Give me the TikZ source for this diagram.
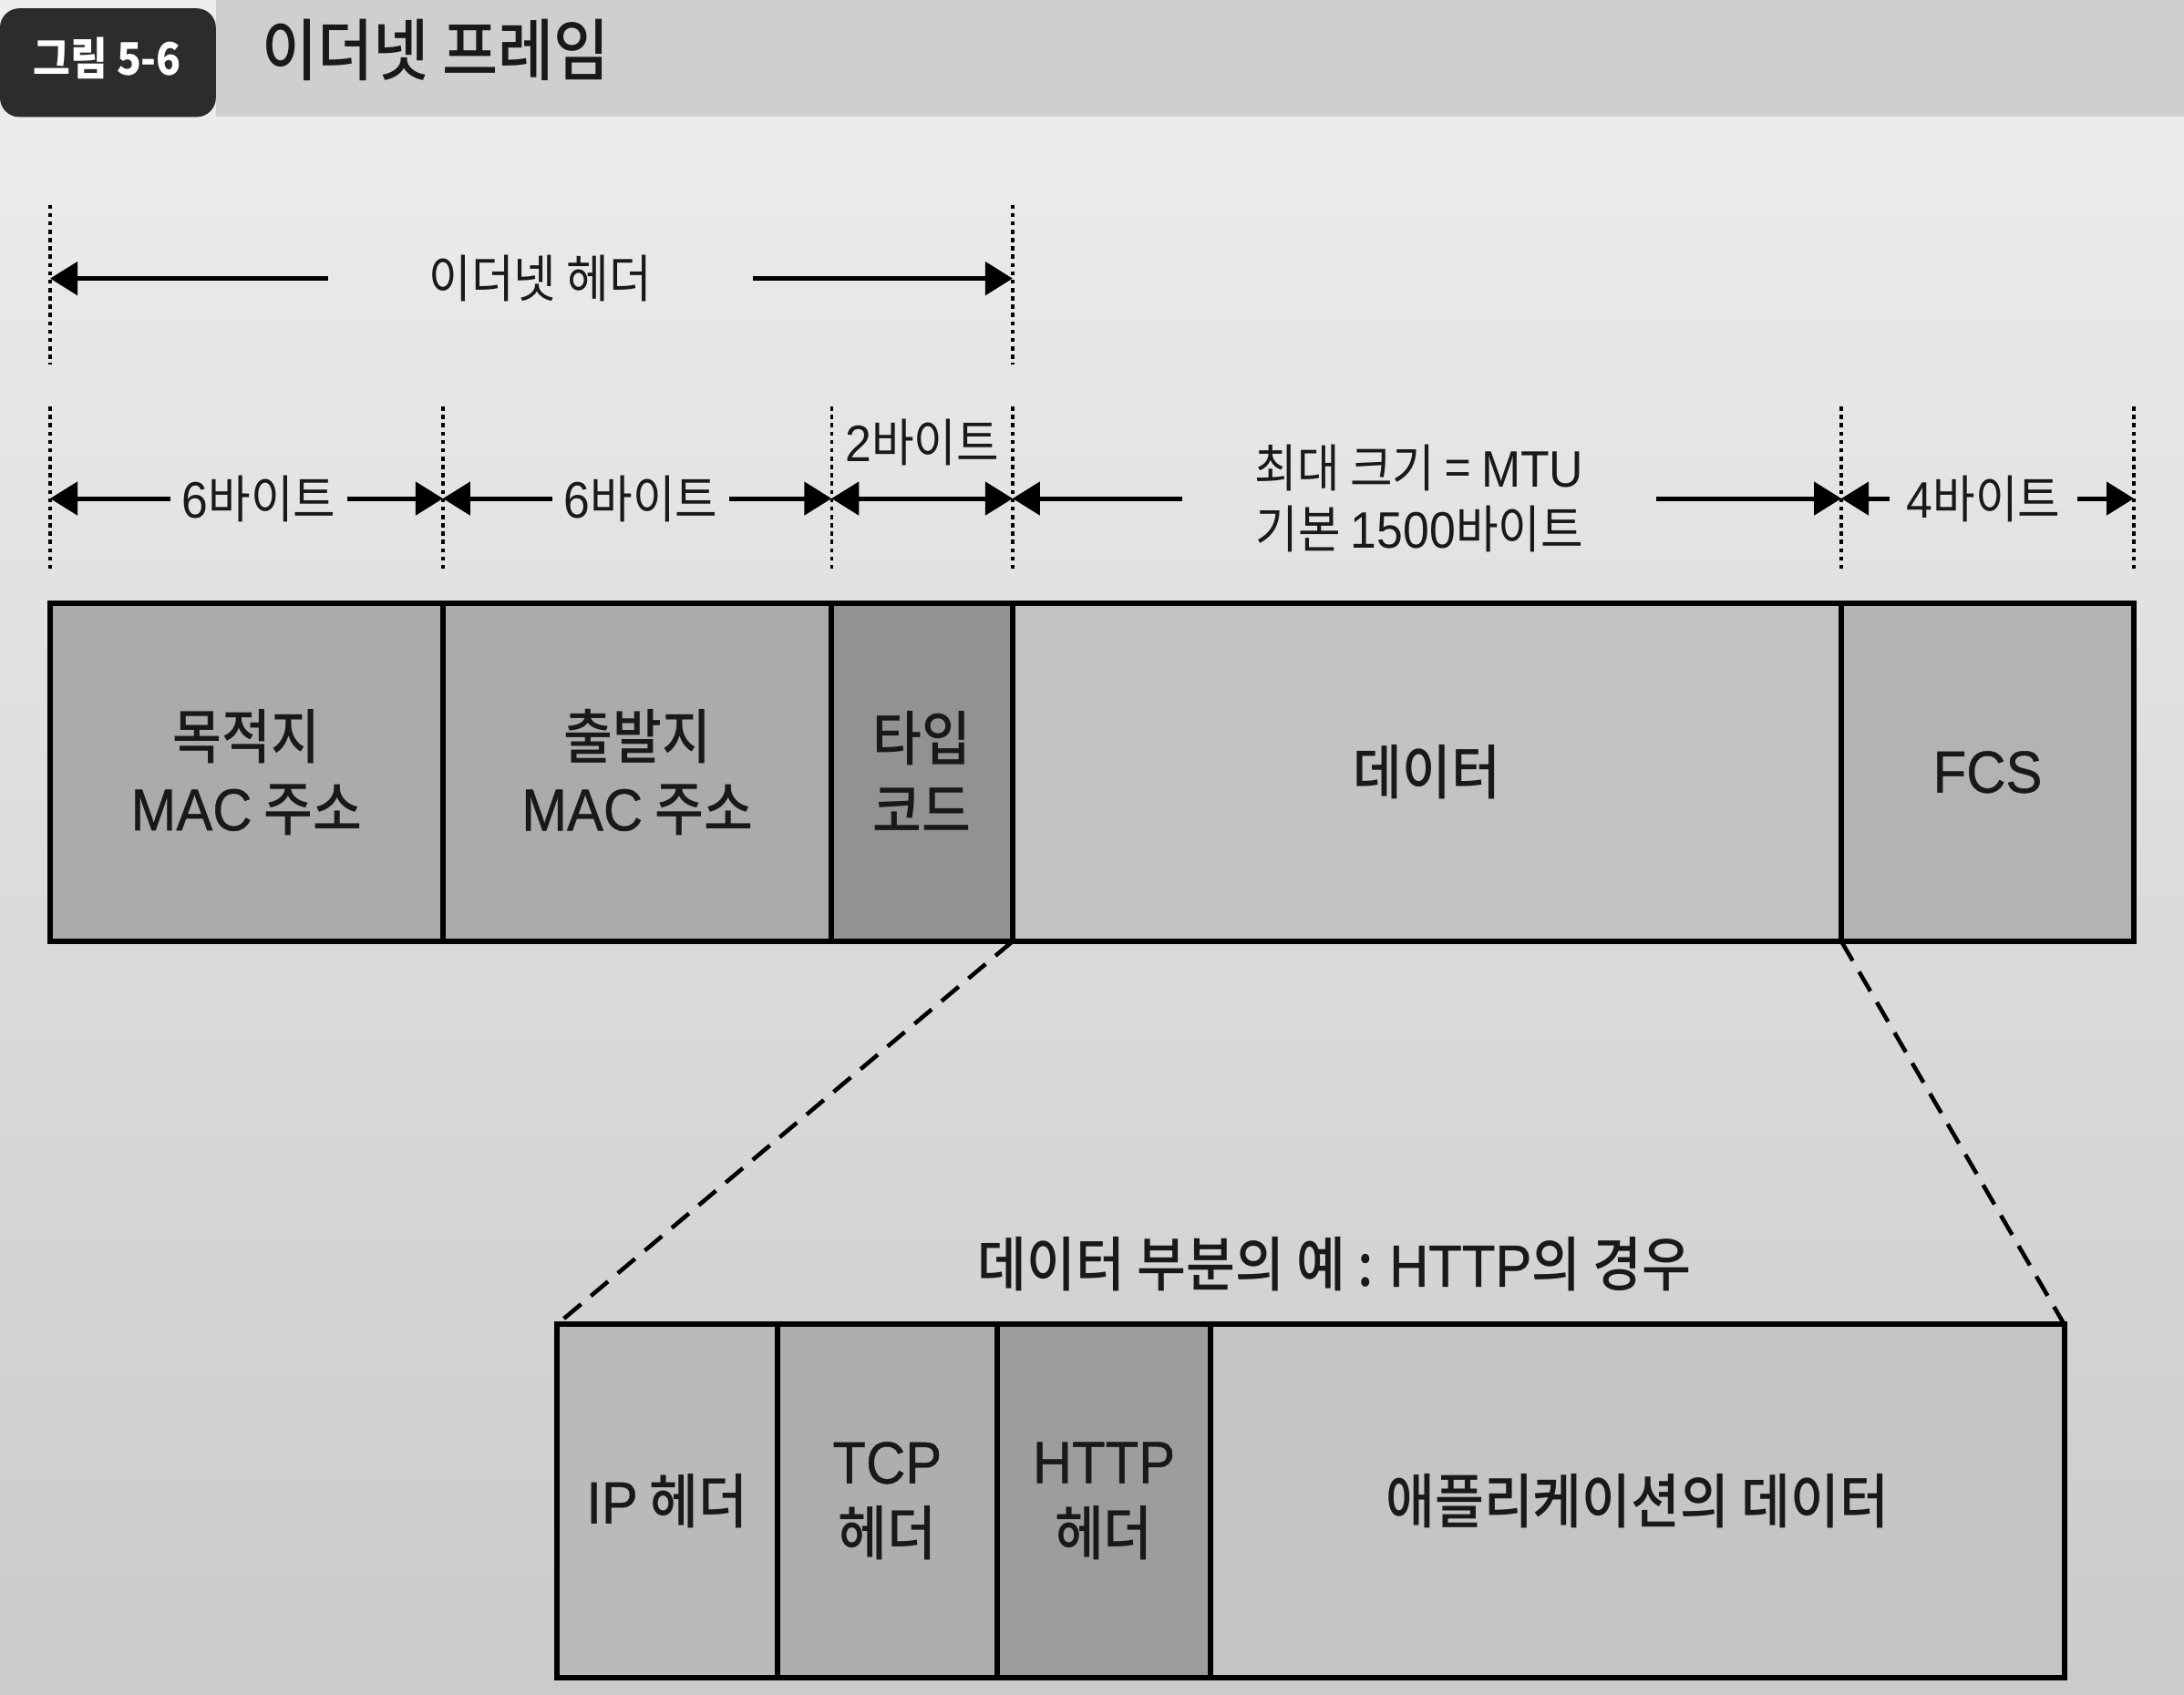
\documentclass[tikz,border=0pt]{standalone}
\usepackage{fontspec}
\setmainfont{Noto Sans CJK KR}[FakeStretch=0.9]
\newfontfamily\krmed{Noto Sans CJK KR Medium}[FakeStretch=0.9]
\newfontfamily\latf{Liberation Sans}[FakeStretch=0.92]
\newfontfamily\latm{Liberation Sans}[FakeStretch=0.92, FakeBold=0.7]
\usepackage{xcolor}
\usetikzlibrary{arrows.meta, positioning, calc}
\newdimen\upx
\upx=0.1528mm
\definecolor{bgTop}{HTML}{EEEEEE}
\definecolor{bgBot}{HTML}{CBCBCB}
\definecolor{band}{HTML}{CFCFCF}
\definecolor{tabfill}{HTML}{2C2C2C}
\definecolor{cMac}{HTML}{ABABAB}
\definecolor{cType}{HTML}{929292}
\definecolor{cData}{HTML}{C3C3C3}
\definecolor{cFcs}{HTML}{B3B3B3}
\definecolor{cIp}{HTML}{BABABA}
\definecolor{cTcp}{HTML}{AEAEAE}
\definecolor{cHttp}{HTML}{9D9D9D}
\definecolor{cApp}{HTML}{C5C5C5}
\tikzset{
    framediagram/.style={x=0.1528mm, y=-0.1528mm, text=black!90},
    fld/.style={draw, line width=1.7pt, minimum height=243\upx, outer sep=0pt,
        inner sep=0pt, align=center, font=\krmed\fontsize{18.5}{22.5}\selectfont},
    dim/.style={inner xsep=8\upx, inner ysep=0pt, align=center,
        font=\fontsize{16}{19}\selectfont},
    guide/.style={dash pattern=on 1.3pt off 1.3pt, line width=1pt},
    meas/.style={-{Triangle[length=3mm, width=3.6mm]}, line width=1.4pt},
    zoomline/.style={dash pattern=on 7pt off 4pt, line width=1.3pt},
    % heading above the zoomed-in data part
    head/.style={font=\krmed\fontsize{18.5}{22}\selectfont},
}
\begin{document}
\begin{tikzpicture}[framediagram]
    \useasboundingbox (0,0) rectangle (1568,1217);
    \shade[top color=bgTop, bottom color=bgBot] (0,0) rectangle (1568,1217);

    % title bar
    \fill[band] (155,0) rectangle (1568,84);
    \fill[tabfill, rounded corners=6pt] (0,6) rectangle (155,84);
    \node[text=white, font=\bfseries\fontsize{14}{16}\selectfont] (fig) at (77,42) {그림 5-6};
    \node[anchor=west, font=\krmed\fontsize{21}{25}\selectfont] (ttl) at (180,36) {이더넷 프레임};

    % ethernet header span
    \draw[guide] (36,147) -- (36,262);
    \draw[guide] (727,147) -- (727,262);
    \coordinate (eh0) at (36,200);
    \coordinate (eh1) at (727,200);
    \node[dim, inner xsep=72\upx] (ethhdr) at (388,200) {이더넷 헤더};
    \draw[meas] (ethhdr) -- (eh0);
    \draw[meas] (ethhdr) -- (eh1);

    % byte sizes
    \foreach \n/\x in {0/36, 1/318, 2/597, 3/727, 4/1322, 5/1532} {
        \draw[guide] (\x,292) -- (\x,410);
        \coordinate (b\n) at (\x,358);
    }
    \node[dim] (six1) at (186,358) {{\latf 6}바이트};
    \draw[meas] (six1) -- (b0);
    \draw[meas] (six1) -- (b1);
    \node[dim] (six2) at (460,358) {{\latf 6}바이트};
    \draw[meas] (six2) -- (b1);
    \draw[meas] (six2) -- (b2);
    \node[dim] (two) at (662,318) {{\latf 2}바이트};
    \draw[meas, {Triangle[length=3mm, width=3.6mm]}-{Triangle[length=3mm, width=3.6mm]}] (b2) -- (b3);
    \node[dim, inner xsep=52\upx] (mtu) at (1019,358) {최대 크기 = {\latf MTU}\\기본 {\latf 1500}바이트};
    \draw[meas] (mtu) -- (b3);
    \draw[meas] (mtu) -- (b4);
    \node[dim, inner xsep=12\upx] (four) at (1424,358) {{\latf 4}바이트};
    \draw[meas] (four) -- (b4);
    \draw[meas] (four) -- (b5);

    % ethernet frame
    \node[fld, fill=cMac, minimum width=282\upx, anchor=north west] (dst) at (36,433) {목적지\\{\latm MAC} 주소};
    \node[fld, fill=cMac, minimum width=279\upx, right=0pt of dst] (src) {출발지\\{\latm MAC} 주소};
    \node[fld, fill=cType, minimum width=130\upx, right=0pt of src] (type) {타입\\코드};
    \node[fld, fill=cData, minimum width=595\upx, right=0pt of type] (data) {데이터};
    \node[fld, fill=cFcs, minimum width=210\upx, right=0pt of data] (fcs) {\latm FCS};

    % data part example
    \node[fld, fill=cIp, minimum width=158\upx, minimum height=254\upx, anchor=north west] (ip) at (400,951) {{\latm IP} 헤더};
    \node[fld, fill=cTcp, minimum width=158\upx, minimum height=254\upx, right=0pt of ip] (tcp) {{\latm TCP}\\헤더};
    \node[fld, fill=cHttp, minimum width=153\upx, minimum height=254\upx, right=0pt of tcp] (http) {{\latm HTTP}\\헤더};
    \node[fld, fill=cApp, minimum width=613\upx, minimum height=254\upx, right=0pt of http] (app) {애플리케이션의 데이터};
    \node[head] (ex) at (958,908) {데이터 부분의 예 : {\latm HTTP}의 경우};

    \draw[zoomline] (data.south west) -- (ip.north west);
    \draw[zoomline] (fcs.south west) -- (app.north east);
\end{tikzpicture}
\end{document}
